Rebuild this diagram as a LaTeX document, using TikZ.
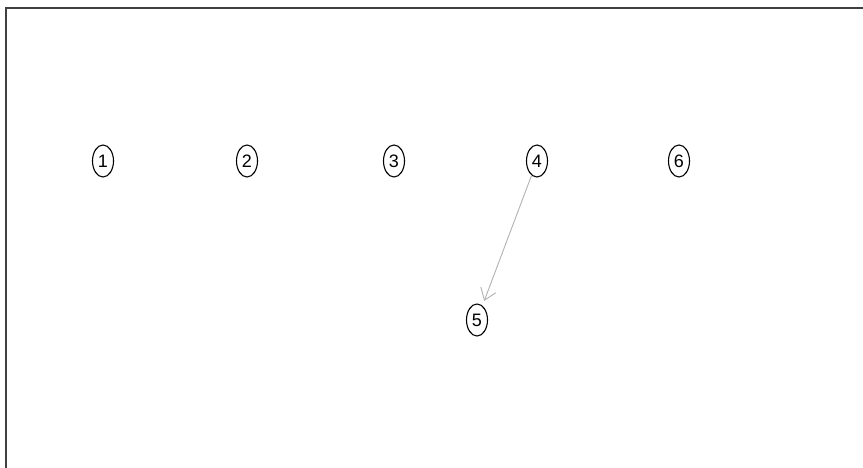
\documentclass[tikz,border=0pt]{standalone}
\usepackage{fontspec}
\setmainfont{Liberation Sans}
\usetikzlibrary{shapes.geometric,arrows.meta}
\begin{document}
\begin{tikzpicture}[x=1pt,y=-1pt,
  vnode/.style={ellipse,draw=black,line width=1.1pt,minimum width=21pt,minimum height=32pt,inner sep=0pt,font=\fontsize{18}{18}\selectfont},
  edge/.style={draw=black!30,line width=0.9pt,shorten >=5pt,-{Straight Barb[length=11pt,width=16pt,line width=0.9pt]}}]
\useasboundingbox (0,0) rectangle (863,468);
\fill[white] (0,0) rectangle (863,468);
\draw[black!75,line width=2pt] (5.5,468) -- (5.5,8.5) -- (863,8.5);
\node[vnode] (n1) at (103,161) {1};
\node[vnode] (n2) at (247,161) {2};
\node[vnode] (n3) at (394,161) {3};
\node[vnode] (n4) at (537,161) {4};
\node[vnode] (n6) at (679,161) {6};
\node[vnode] (n5) at (477,320) {5};
\draw[edge] (n4) -- (n5);
\end{tikzpicture}
\end{document}
